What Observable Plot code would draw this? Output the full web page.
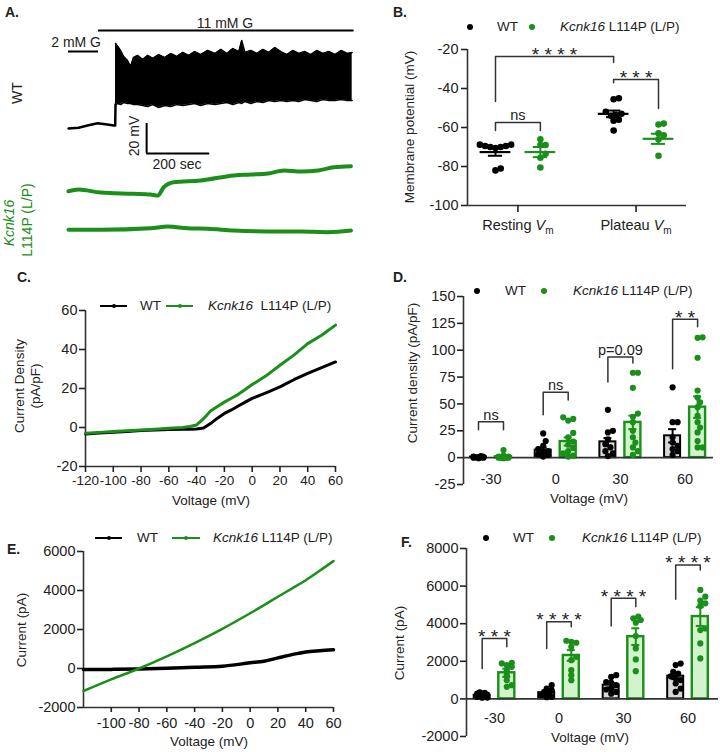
<!DOCTYPE html>
<html><head><meta charset="utf-8">
<script src="https://cdn.jsdelivr.net/npm/d3@7"></script>
<script src="https://cdn.jsdelivr.net/npm/@observablehq/plot@0.6"></script>
<style>
body{margin:0;background:#fff;}
#root{position:relative;width:720px;height:752px;overflow:hidden;font-family:"Liberation Sans",Arial,Helvetica,sans-serif;color:#222;}
.t{position:absolute;white-space:nowrap;line-height:1.15;}
svg{overflow:visible;}
</style></head><body><div id="root"></div>
<script>
// ======================= DATA =======================
const GREEN = "#1a8f1a";
const INK = "#222";
// ---- Panel A: membrane potential traces (time s, mV) ----
const aRestT  = [0, 32, 60, 92, 123, 143, 148, 149];
const aRestMV = [-74, -73.5, -72, -70.5, -71.3, -72, -72, -58];
const aSpikeT = [149,156,165,175,187,197,206,219,235,251,267,286,305,324,343,362,381,400,419,441,464,483,502,521,540,549,559,578,597,616,635,654,673,692,711,730,749,768,787,806,826,845,864,883,899];
const aSpikeTop = [-17.3,-19.3,-22,-26,-28.7,-32.7,-26.7,-25.3,-28,-25.3,-27.3,-24.7,-26.7,-24,-26,-23.3,-25.3,-22.7,-24.7,-22,-24,-21.3,-24,-20.7,-22.7,-15.3,-23.3,-22,-24,-21.3,-23.3,-20,-22.7,-24.7,-22,-24,-22.7,-24.7,-22,-24,-22.7,-24.7,-22,-24,-23.3];
const aSpikeBottom = [-58,-57.3,-58,-56.7,-57.3,-57.3,-58,-58,-58.7,-59.3,-58,-60,-58.7,-59.3,-58,-58.7,-58,-57.3,-58.7,-57.3,-58,-57.3,-56.7,-58,-56.7,-57.3,-56,-57.3,-56,-56.7,-55.3,-56,-55.3,-56,-55.3,-56,-54.7,-55.3,-56,-54.7,-55.3,-55.3,-54.7,-55.3,-55.3];
const aG1T  = [0, 32, 102, 206, 260, 283, 302, 333, 419, 524, 578, 632, 683, 737, 791, 841, 895];
const aG1MV = [-70, -68.9, -70.9, -71.7, -72.2, -72.9, -67.3, -64, -62.9, -59.5, -58.9, -58.2, -56.2, -56.9, -56.2, -54, -53.3];
const aG2T  = [0, 102, 260, 314, 378, 441, 524, 632, 737, 822, 895];
const aG2MV = [-72, -72, -71, -69.8, -71, -71.3, -72.5, -73.1, -73.1, -73.6, -72.5];
const aGlucoseLabel = ["2 mM G", "11 mM G"];
const aGlucoseStart = [0, 95];
const aGlucoseEnd   = [95, 905];
const aScaleSec = 200, aScaleMV = 20;

// ---- Panel B: membrane potential (mV) ----
const bGroups = ["Resting", "Plateau"];
const bYTicks = [-100, -80, -60, -40, -20];
const bWT = [[-70.5, -70, -69.5, -68.8, -68.8, -69.5, -70, -82, -81], [-45, -45.5, -52, -53, -53.5, -54, -56.5, -56, -61.5]];
const bLP = [[-66, -69, -69, -73.5, -75.5, -80.5], [-58, -58.5, -63, -64, -66, -74.5]];
const bMeanWT = [-72.6, -53], bSemWT = [1.9, 1.7];
const bMeanLP = [-72.6, -65.8], bSemLP = [2.6, 2.6];
const bSigLabel = ["* * * *", "* * *", "ns"];
const bSigFrom = [[0, "WT"], [1, "WT"], [0, "WT"]];
const bSigTo   = [[1, "WT"], [1, "LP"], [0, "LP"]];
const bSigTop  = [-23.6, -35.4, -57.4];
const bSigLeg1 = [-46.7, -37, -61.5];
const bSigLeg2 = [-26.7, -50.3, -61.5];

// ---- Panel C: current density vs voltage ----
const cV  = [-120, -110, -100, -90, -80, -70, -60, -50, -45, -40, -35, -30, -25, -20, -15, -10, -5, 0, 10, 20, 30, 40, 50, 60];
const cWT = [-3.3, -2.8, -2.4, -2, -1.6, -1.3, -1, -0.9, -0.9, -0.8, -0.3, 2, 4.8, 7.2, 9, 11, 13, 14.9, 17.8, 20.8, 24.5, 27.7, 30.7, 33.6];
const cLP = [-3, -2.5, -2, -1.7, -1.3, -0.9, -0.4, 0, 0.5, 1.3, 4.5, 8.5, 10.8, 13, 15, 17, 19.5, 22, 26.5, 31.9, 37.1, 43, 47.3, 52.5];
const cXTicks = [-120, -100, -80, -60, -40, -20, 0, 20, 40, 60];
const cYTicks = [-20, 0, 20, 40, 60];

// ---- Panel D: current density (pA/pF) per voltage ----
const dVolt = [-30, 0, 30, 60];
const dYTicks = [-25, 0, 25, 50, 75, 100, 125, 150];
const dWT = [[0, 0.5, -0.5, 1, 0, 0.3, 1.5, 0.2, 0.8], [22.5, 15.5, 11, 8, 6, 5, 3, 2.5, 1], [44.5, 25, 23.5, 17, 12.5, 9.5, 6, 4, 1.5], [65.5, 33, 33, 19, 14, 11, 8, 6, 2.5]];
const dLP = [[7, 2, 1, 0.5, 0, 0, -0.5, 0.5, 1, 0, 0.3, 0], [37.5, 36, 34.5, 23, 19, 15, 12, 9, 6, 4, 2, 1], [79, 79, 65, 41, 38, 33, 25, 19, 14, 9.5, 6, 2.5], [111.5, 112, 93, 62.5, 56, 51.5, 47, 39, 33, 28, 23.5, 15.5, 9.5, 9.5]];
const dMeanWT = [0.5, 7, 14.7, 20.3], dSemWT = [0.3, 2.4, 3.5, 6.2];
const dMeanLP = [0.8, 15, 32.8, 47], dSemLP = [0.6, 3.8, 6.3, 10];
const dSigLabel = ["ns", "ns", "p=0.09", "* *"];
const dSigTop  = [33.4, 60.9, 93.75, 128.75];
const dSigLeg1 = [25.9, 40, 70.3, 82.8];
const dSigLeg2 = [25.9, 53.75, 88.1, 121.9];

// ---- Panel E: current vs voltage ----
const eV  = [-120, -100, -80, -60, -40, -20, 0, 10, 20, 30, 40, 50, 60];
const eWT = [-51, -45, -30, 10, 68, 119, 290, 372, 544, 712, 849, 916, 967];
const eLP = [-1155, -560, 0, 626, 1307, 2036, 2834, 3250, 3680, 4100, 4529, 5010, 5511];
const eXTicks = [-100, -80, -60, -40, -20, 0, 20, 40, 60];
const eYTicks = [-2000, 0, 2000, 4000, 6000];

// ---- Panel F: current (pA) per voltage ----
const fVolt = [-30, 0, 30, 60];
const fYTicks = [-2000, 0, 2000, 4000, 6000, 8000];
const fWT = [[350, 320, 280, 230, 200, 160, 130, 100, 70, 60], [730, 550, 450, 370, 280, 200, 110, 90], [1260, 1170, 900, 850, 730, 550, 370, 280, 500], [1880, 1800, 1440, 1350, 1000, 820, 550, 370, 1100, 1200]];
const fLP = [[1920, 1885, 1796, 1707, 1529, 1262, 996, 729, 640], [3094, 2987, 3040, 2774, 2240, 2062, 1529, 1262, 996], [4374, 4285, 4196, 4054, 3342, 2685, 2098, 1476], [5796, 5440, 5227, 5085, 4943, 3751, 3662, 2951, 2151]];
const fMeanWT = [196, 330, 730, 1210], fSemWT = [50, 90, 120, 160];
const fMeanLP = [1390, 2310, 3310, 4380], fSemLP = [220, 284, 445, 498];
const fSigLabel = ["* * *", "* * * *", "* * * *", "* * * *"];
const fSigTop  = [3218, 4107, 5351, 7129];
const fSigLeg1 = [1618, 2684, 3876, 5298];
const fSigLeg2 = [2773, 3840, 4907, 6862];

// ======================= HELPERS =======================
const FONT = '"Liberation Sans", Arial, Helvetica, sans-serif';
const TICKFS = 14.5;
const fmt = d => String(d);
const root = document.getElementById("root");
function place(svg, left, top) {
  svg.style.position = "absolute"; svg.style.left = left + "px"; svg.style.top = top + "px";
  root.appendChild(svg); return svg;
}
function txt(html, x, y, o = {}) {
  const d = document.createElement("div"); d.className = "t"; d.innerHTML = html;
  d.style.left = x + "px"; d.style.top = y + "px";
  d.style.fontSize = (o.size || 13.5) + "px";
  if (o.bold) d.style.fontWeight = "bold";
  if (o.color) d.style.color = o.color;
  if (o.italic) d.style.fontStyle = "italic";
  const tx = o.anchor === "start" ? "0" : o.anchor === "end" ? "-100%" : "-50%";
  d.style.transform = `translate(${tx},-50%)` + (o.rotate ? ` rotate(${o.rotate}deg)` : "");
  if (o.align) d.style.textAlign = o.align;
  root.appendChild(d); return d;
}
function legDot(x, y, color) {
  const d = document.createElement("div");
  d.style.cssText = `position:absolute;left:${x - 3.3}px;top:${y - 3.3}px;width:6.6px;height:6.6px;border-radius:50%;background:${color}`;
  root.appendChild(d);
}
function legLine(x1, x2, y, color) {
  const d = document.createElement("div");
  d.style.cssText = `position:absolute;left:${x1}px;top:${y - 1}px;width:${x2 - x1}px;height:2px;background:${color}`;
  root.appendChild(d);
  const m = document.createElement("div");
  m.style.cssText = `position:absolute;left:${(x1 + x2) / 2 - 2}px;top:${y - 2}px;width:4px;height:4px;border-radius:50%;background:${color}`;
  root.appendChild(m);
}
const style = {fontFamily: FONT, fontSize: TICKFS + "px", color: INK, background: "transparent", overflow: "visible"};

// beeswarm-like horizontal dodge in pixel space
function dodge(vals, pxY, minD, maxOff) {
  const order = vals.map((v, i) => i).sort((a, b) => vals[a] - vals[b]);
  const placed = [], off = new Array(vals.length);
  for (const i of order) {
    const y = vals[i] * pxY;
    let best = 0, bestD = -1;
    for (let k = 0; k < 30; k++) {
      const x = (k % 2 ? 1 : -1) * Math.ceil(k / 2) * minD * 0.5;
      if (Math.abs(x) > maxOff) continue;
      const dmin = placed.length ? Math.min(...placed.map(p => Math.hypot(p.x - x, p.y - y))) : Infinity;
      if (dmin >= minD) { best = x; bestD = Infinity; break; }
      if (dmin > bestD) { bestD = dmin; best = x; }
    }
    placed.push({x: best, y}); off[i] = best;
  }
  return off;
}
function buildDots(groupsX, valsWT, valsLP, sideOff, pxX, pxY, minD, maxOff) {
  const out = [];
  groupsX.forEach((gx, gi) => {
    [["WT", valsWT[gi], -sideOff], ["LP", valsLP[gi], sideOff]].forEach(([s, vals, so]) => {
      const off = dodge(vals, pxY, minD, maxOff);
      vals.forEach((v, j) => out.push({series: s, x: gx + so + off[j] / pxX, y: v}));
    });
  });
  return out;
}
function brackets(labels, fromX, toX, top, leg1, leg2) {
  const pts = [], lab = [];
  labels.forEach((l, i) => {
    pts.push({i, x: fromX[i], y: leg1[i]}, {i, x: fromX[i], y: top[i]}, {i, x: toX[i], y: top[i]}, {i, x: toX[i], y: leg2[i]});
    lab.push({x: (fromX[i] + toX[i]) / 2, y: top[i], label: l, star: l.includes("*")});
  });
  return {pts, lab};
}
function bracketMarks(b) {
  return [
    Plot.line(b.pts, {x: "x", y: "y", z: "i", stroke: "#333", strokeWidth: 1.5}),
    Plot.text(b.lab.filter(d => !d.star), {x: "x", y: "y", text: "label", lineAnchor: "bottom", dy: -2, fontSize: 14.5, fill: INK}),
    Plot.text(b.lab.filter(d => d.star), {x: "x", y: "y", text: "label", lineAnchor: "bottom", dy: 4.5, fontSize: 19, fill: INK})
  ];
}
const colorOf = s => s === "WT" ? "#000" : GREEN;

// ======================= PANEL A =======================
(function () {
  const H = 250, k = 1.5; // px per mV
  const rows = {WT: {py: 125, mv: -72}, G1: {py: 190.7, mv: -70}, G2: {py: 229.3, mv: -72}};
  const disp = (mv, r) => mv - rows[r].mv - rows[r].py / k;
  const rest = aRestT.map((t, i) => ({t, y: disp(aRestMV[i], "WT")}));
  const spk = aSpikeT.map((t, i) => ({t, y1: disp(aSpikeBottom[i], "WT"), y2: disp(aSpikeTop[i], "WT")}));
  const g1 = aG1T.map((t, i) => ({t, y: disp(aG1MV[i], "G1")}));
  const g2 = aG2T.map((t, i) => ({t, y: disp(aG2MV[i], "G2")}));
  const glu = aGlucoseLabel.map((l, i) => ({x1: aGlucoseStart[i], x2: aGlucoseEnd[i], y: i === 0 ? -51 / k : -30 / k}));
  const sbT = 247.6, sbY = -153 / k;
  const svg = Plot.plot({
    width: 360, height: H, marginLeft: 68, marginRight: 8, marginTop: 0, marginBottom: 0, style,
    x: {domain: [0, 900], axis: null}, y: {domain: [-H / k, 0], axis: null},
    marks: [
      Plot.ruleY(glu, {x1: "x1", x2: "x2", y: "y", stroke: "#000", strokeWidth: 2}),
      Plot.line(rest, {x: "t", y: "y", stroke: "#000", strokeWidth: 2.5}),
      Plot.areaY(spk, {x: "t", y1: "y1", y2: "y2", fill: "#000"}),
      Plot.line(spk, {x: "t", y: "y2", stroke: "#000", strokeWidth: 1.5}),
      Plot.line(spk, {x: "t", y: "y1", stroke: "#000", strokeWidth: 1.5}),
      Plot.line(g1, {x: "t", y: "y", stroke: GREEN, strokeWidth: 4, curve: "monotone-x"}),
      Plot.line(g2, {x: "t", y: "y", stroke: GREEN, strokeWidth: 4, curve: "monotone-x"}),
      Plot.ruleX([sbT], {y1: sbY, y2: sbY + aScaleMV, stroke: "#000", strokeWidth: 2}),
      Plot.ruleY([sbY], {x1: sbT, x2: sbT + aScaleSec, stroke: "#000", strokeWidth: 2})
    ]
  });
  place(svg, 0, 0);
  txt("A.", 5, 12, {bold: true, size: 14, anchor: "start"});
  txt(aGlucoseLabel[1], 225, 23, {size: 14});
  txt(aGlucoseLabel[0], 101, 42, {size: 14, anchor: "end"});
  txt(aScaleMV + " mV", 134, 136, {size: 14, rotate: -90});
  txt(aScaleSec + " sec", 177, 164, {size: 14});
  txt("WT", 17, 93, {size: 14, rotate: -90});
  txt("Kcnk16", 9, 223, {size: 14, rotate: -90, italic: true, color: GREEN});
  txt("L114P (L/P)", 27, 220, {size: 14, rotate: -90, color: GREEN});
})();

// ======================= PANEL B =======================
(function () {
  const off = 0.19, pxX = 118, pxY = 39 / 20;
  const dots = buildDots([0, 1], bWT, bLP, off, pxX, pxY, 5.2, 16);
  const means = [0, 1].flatMap(g => [
    {series: "WT", x: g - off, m: bMeanWT[g], s: bSemWT[g]},
    {series: "LP", x: g + off, m: bMeanLP[g], s: bSemLP[g]}]);
  const sx = ([g, s]) => g + (s === "WT" ? -off : off);
  const br = brackets(bSigLabel, bSigFrom.map(sx), bSigTo.map(sx), bSigTop, bSigLeg1, bSigLeg2);
  const x0 = -0.427;
  const svg = Plot.plot({
    width: 360, height: 250, marginLeft: 107, marginRight: 34, marginTop: 49, marginBottom: 45, style,
    x: {domain: [x0, 1.427]}, y: {domain: [-100, -20]},
    marks: [
      Plot.ruleX([x0], {stroke: "#333", strokeWidth: 1.6}),
      Plot.ruleY([-100], {stroke: "#333", strokeWidth: 1.6}),
      Plot.axisY({ticks: bYTicks, tickSize: 6, tickPadding: 3, tickFormat: fmt, label: null, strokeWidth: 1.6}),
      Plot.axisX({ticks: [0, 1], tickSize: 7, tickPadding: 7, tickFormat: i => bGroups[i], label: null, strokeWidth: 1.6}),
      Plot.dot(dots, {x: "x", y: "y", r: 3.3, fill: d => colorOf(d.series)}),
      Plot.ruleY(means, {x1: d => d.x - 0.13, x2: d => d.x + 0.13, y: "m", stroke: d => colorOf(d.series), strokeWidth: 2.2}),
      Plot.ruleX(means, {x: "x", y1: d => d.m - d.s, y2: d => d.m + d.s, stroke: d => colorOf(d.series), strokeWidth: 2}),
      Plot.ruleY(means, {x1: d => d.x - 0.06, x2: d => d.x + 0.06, y: d => d.m + d.s, stroke: d => colorOf(d.series), strokeWidth: 2}),
      Plot.ruleY(means, {x1: d => d.x - 0.06, x2: d => d.x + 0.06, y: d => d.m - d.s, stroke: d => colorOf(d.series), strokeWidth: 2}),
      ...bracketMarks(br)
    ]
  });
  svg.querySelectorAll('g[aria-label="x-axis tick label"] text').forEach(t => {
    const w = t.textContent;
    t.innerHTML = `${w} <tspan font-style="italic">V</tspan><tspan font-size="10" dy="4">m</tspan>`;
  });
  place(svg, 360, 0);
  txt("B.", 393, 12, {bold: true, size: 14, anchor: "start"});
  legDot(470, 27, "#000"); txt("WT", 497, 27, {anchor: "start"});
  legDot(532, 27, GREEN); txt("<i>Kcnk16</i> L114P (L/P)", 560, 27, {anchor: "start"});
  txt("Membrane potential (mV)", 410, 127, {rotate: -90});
})();

// ======================= PANEL C =======================
(function () {
  const data = [...cV.map((v, i) => ({series: "WT", v, y: cWT[i]})), ...cV.map((v, i) => ({series: "LP", v, y: cLP[i]}))];
  const svg = Plot.plot({
    width: 360, height: 245, marginLeft: 85, marginRight: 25, marginTop: 55, marginBottom: 34, style,
    x: {domain: [-120, 60]}, y: {domain: [-20, 60]},
    marks: [
      Plot.ruleX([-120], {stroke: "#333", strokeWidth: 1.6}),
      Plot.ruleY([-20], {stroke: "#333", strokeWidth: 1.6}),
      Plot.axisY({ticks: cYTicks, tickSize: 6, tickPadding: 2, tickFormat: fmt, label: null, strokeWidth: 1.6}),
      Plot.axisX({ticks: cXTicks, tickSize: 6, tickPadding: 3, tickFormat: fmt, label: null, strokeWidth: 1.6, fontSize: 13.5}),
      Plot.line(data, {x: "v", y: "y", z: "series", stroke: d => colorOf(d.series), strokeWidth: 3})
    ]
  });
  place(svg, 0, 255);
  txt("C.", 17, 277, {bold: true, size: 14, anchor: "start"});
  legLine(100, 127, 306, "#000"); txt("WT", 140, 306, {anchor: "start"});
  legLine(166, 193, 306, GREEN); txt("<i>Kcnk16</i>&nbsp; L114P (L/P)", 208, 306, {anchor: "start"});
  txt("Current Density<br>(pA/pF)", 28, 386, {rotate: -90, align: "center"});
  txt("Voltage (mV)", 211, 501);
})();

// ======================= bar panels D & F =======================
function barPanel(cfg) {
  const {volt, WT, LP, mWT, sWT, mLP, sLP, pxX, pxY, off, hw, xDom, yDom, yTicks, sig} = cfg;
  const dots = buildDots(volt, WT, LP, off, pxX, pxY, 5, 7);
  const means = volt.flatMap((v, i) => [
    {series: "WT", x: v - off, m: mWT[i], s: sWT[i]},
    {series: "LP", x: v + off, m: mLP[i], s: sLP[i]}]);
  const br = brackets(sig.label, volt.map(v => v - off), volt.map(v => v + off), sig.top, sig.leg1, sig.leg2);
  const cap = 4 / pxX;
  return Plot.plot({
    width: 360, height: cfg.height, marginLeft: cfg.ml, marginRight: cfg.mr, marginTop: cfg.mt, marginBottom: cfg.mb, style,
    x: {domain: xDom, axis: null}, y: {domain: yDom},
    marks: [
      Plot.rectY(means, {x1: d => d.x - hw, x2: d => d.x + hw, y1: 0, y2: "m",
        fill: d => d.series === "WT" ? "#d9d9d9" : "#d3f3cd", stroke: d => colorOf(d.series), strokeWidth: d => d.series === "WT" ? 2 : 2.4}),
      Plot.ruleX([xDom[0]], {stroke: "#333", strokeWidth: 1.6}),
      Plot.ruleY([0], {stroke: "#333", strokeWidth: 1.6}),
      Plot.axisY({ticks: yTicks, tickSize: 6, tickPadding: 2, tickFormat: fmt, label: null, strokeWidth: 1.6}),
      Plot.text(volt, {x: d => d, frameAnchor: "bottom", dy: cfg.labelDy, text: d => fmt(d), fontSize: TICKFS, fill: INK}),
      Plot.dot(dots, {x: "x", y: "y", r: 3.1, fill: d => colorOf(d.series)}),
      Plot.ruleX(means, {x: "x", y1: d => d.m - d.s, y2: d => d.m + d.s, stroke: d => colorOf(d.series), strokeWidth: 2}),
      Plot.ruleY(means, {x1: d => d.x - cap, x2: d => d.x + cap, y: d => d.m + d.s, stroke: d => colorOf(d.series), strokeWidth: 2}),
      Plot.ruleY(means, {x1: d => d.x - cap, x2: d => d.x + cap, y: d => d.m - d.s, stroke: d => colorOf(d.series), strokeWidth: 2}),
      ...bracketMarks(br)
    ]
  });
}

// ======================= PANEL D =======================
(function () {
  const pxX = 64.7 / 30, pxY = 188 / 175;
  const svg = barPanel({volt: dVolt, WT: dWT, LP: dLP, mWT: dMeanWT, sWT: dSemWT, mLP: dMeanLP, sLP: dSemLP,
    pxX, pxY, off: 12.5 / pxX, hw: 8 / pxX, xDom: [-42.75, 73.17], yDom: [-25, 150], yTicks: dYTicks,
    sig: {label: dSigLabel, top: dSigTop, leg1: dSigLeg1, leg2: dSigLeg2},
    height: 245, ml: 103, mr: 7, mt: 41, mb: 16, labelDy: -1});
  place(svg, 360, 255);
  txt("D.", 393, 277, {bold: true, size: 14, anchor: "start"});
  legDot(477, 291, "#000"); txt("WT", 505, 291, {anchor: "start"});
  legDot(544, 291, GREEN); txt("<i>Kcnk16</i> L114P (L/P)", 573, 291, {anchor: "start"});
  txt("Current density (pA/pF)", 413, 373, {rotate: -90});
  txt("Voltage (mV)", 589, 499);
})();

// ======================= PANEL E =======================
(function () {
  const data = [...eV.map((v, i) => ({series: "WT", v, y: eWT[i]})), ...eV.map((v, i) => ({series: "LP", v, y: eLP[i]}))];
  const svg = Plot.plot({
    width: 360, height: 247, marginLeft: 83, marginRight: 27, marginTop: 46, marginBottom: 45, style,
    x: {domain: [-120, 60]}, y: {domain: [-2000, 6000]},
    marks: [
      Plot.ruleX([-120], {stroke: "#333", strokeWidth: 1.6}),
      Plot.ruleY([-2000], {stroke: "#333", strokeWidth: 1.6}),
      Plot.axisY({ticks: eYTicks, tickSize: 6, tickPadding: 2, tickFormat: fmt, label: null, strokeWidth: 1.6}),
      Plot.axisX({ticks: eXTicks, tickSize: 5, tickPadding: 5, tickFormat: fmt, label: null, strokeWidth: 1.6}),
      Plot.line(data, {x: "v", y: "y", z: "series", stroke: d => colorOf(d.series), strokeWidth: d => d.series === "WT" ? 3.5 : 2.5, curve: "monotone-x"})
    ]
  });
  place(svg, 0, 505);
  txt("E.", 7, 549, {bold: true, size: 14, anchor: "start"});
  legLine(95, 122, 538, "#000"); txt("WT", 137, 538, {anchor: "start"});
  legLine(172, 200, 538, GREEN); txt("<i>Kcnk16</i> L114P (L/P)", 213, 538, {anchor: "start"});
  txt("Current (pA)", 22, 630, {rotate: -90});
  txt("Voltage (mV)", 209, 742);
})();

// ======================= PANEL F =======================
(function () {
  const pxX = 64.5 / 30, pxY = 188 / 10000;
  const svg = barPanel({volt: fVolt, WT: fWT, LP: fLP, mWT: fMeanWT, sWT: fSemWT, mLP: fMeanLP, sLP: fSemLP,
    pxX, pxY, off: 12.3 / pxX, hw: 8 / pxX, xDom: [-43.02, 74.19], yDom: [-2000, 8000], yTicks: fYTicks,
    sig: {label: fSigLabel, top: fSigTop, leg1: fSigLeg1, leg2: fSigLeg2},
    height: 247, ml: 106, mr: 2, mt: 43, mb: 16, labelDy: -14});
  place(svg, 360, 505);
  txt("F.", 401, 542, {bold: true, size: 14, anchor: "start"});
  legDot(486, 538, "#000"); txt("WT", 513, 538, {anchor: "start"});
  legDot(552, 538, GREEN); txt("<i>Kcnk16</i> L114P (L/P)", 582, 538, {anchor: "start"});
  txt("Current (pA)", 400, 643, {rotate: -90});
  txt("Voltage (mV)", 590, 738);
})();
</script></body></html>
